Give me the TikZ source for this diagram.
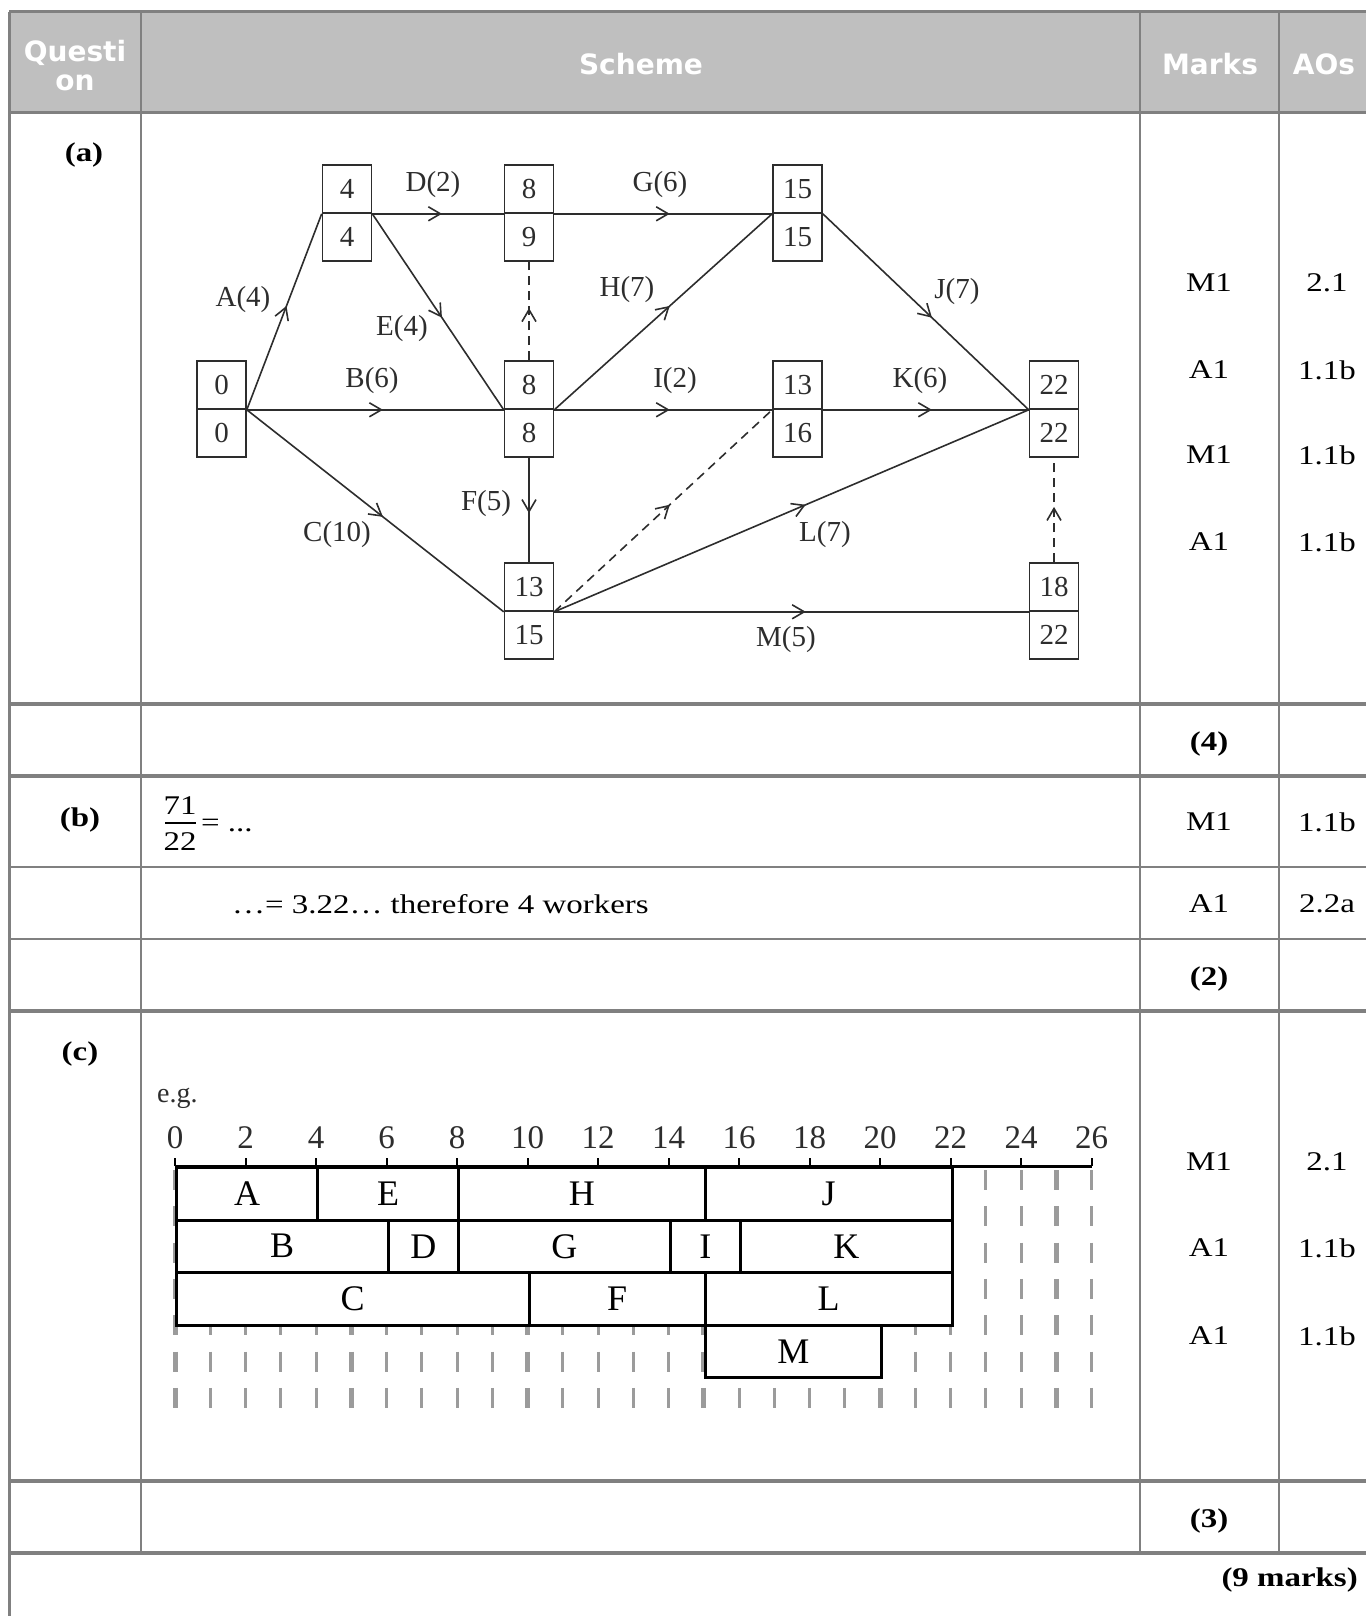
\documentclass[tikz,border=0pt]{standalone}
\usepackage{fontspec}
\setmainfont{Liberation Serif}
\newfontfamily\widefont{Liberation Serif}[FakeStretch=1.22]
\newfontfamily\hdrfont{DejaVu Sans}
\usetikzlibrary{arrows.meta,decorations.markings}
\definecolor{tline}{RGB}{128,128,128}
\definecolor{hdrfill}{RGB}{191,191,191}
\definecolor{ink}{RGB}{45,45,45}
\definecolor{dgray}{RGB}{155,155,155}
\tikzset{
  tbl/.style={draw=tline, line width=2.2pt},
  thk/.style={draw=tline, line width=3.5pt},
  hdr/.style={font=\hdrfont\bfseries\fontsize{28}{29}\selectfont, text=white, align=center, inner sep=0},
  mk/.style={font=\widefont\fontsize{27}{30}\selectfont, inner sep=0},
  mkb/.style={font=\widefont\bfseries\fontsize{27}{30}\selectfont, inner sep=0},
  cell/.style={draw=ink, line width=1.6pt, minimum width=49pt, minimum height=48pt, inner sep=0, font=\fontsize{29}{30}\selectfont, text=ink},
  lbl/.style={font=\fontsize{29}{30}\selectfont, text=ink, inner sep=0},
  act/.style={draw=ink, line width=1.6pt, postaction={decorate},
    decoration={markings, mark=at position 0.53 with {\arrow{Straight Barb[length=12pt,width=14pt]}}}},
  dum/.style={act, dash pattern=on 9pt off 6pt},
  bar/.style={draw=black, line width=3pt, fill=white, inner sep=0, font=\fontsize{36}{38}\selectfont},
  gnum/.style={font=\fontsize{33}{35}\selectfont, inner sep=0, text=ink},
  gd/.style={draw=dgray, line width=3pt, dash pattern=on 20pt off 16.3pt},
  gdk/.style={gd, line width=5pt}
}
\begin{document}
\begin{tikzpicture}[x=1pt,y=-1pt]
\path[use as bounding box] (0,0) rectangle (1366,1616);
% header
\fill[hdrfill] (9,12) rectangle (1366,113);
% table lines
\draw[tbl, line width=3pt] (9,12) -- (1366,12);
\draw[tbl, line width=3pt] (9,113) -- (1366,113);
\foreach \yy in {704,776,1011,1481,1553} {\draw[thk] (9,\yy) -- (1366,\yy);}
\foreach \yy in {867,939} {\draw[tbl, line width=2pt] (141,\yy) -- (1366,\yy); \draw[tbl, line width=2pt] (9,\yy) -- (141,\yy);}
\draw[tbl, line width=3pt] (9,12) -- (9,1616);
\draw[tbl] (141,12) -- (141,1553);
\draw[tbl] (1140,12) -- (1140,1553);
\draw[tbl, line width=2pt] (1279,12) -- (1279,1553);
% header text
\node[hdr] (hq) at (75,66) {Questi\\on};
\node[hdr] (hs) at (641,64) {Scheme};
\node[hdr] (hm) at (1210,64) {Marks};
\node[hdr] (ha) at (1324,64) {AOs};
% part labels
\node[mkb] (pa) at (84,155) {(a)};
\node[mkb] (pb) at (80,820) {(b)};
\node[mkb] (pc) at (80,1054) {(c)};
% marks
\foreach \nm/\yy/\mm/\ao in {m1/283/M1/2.1, m2/370/A1/1.1b, m3/455/M1/1.1b, m4/542/A1/1.1b,
  m5/822/M1/1.1b, m6/904/A1/2.2a, m7/1162/M1/2.1, m8/1248/A1/1.1b, m9/1336/A1/1.1b} {
  \node[mk] (\nm) at (1209,\yy) {\mm};
  \node[mk] (\nm ao) at (1327,\yy) {\ao};
}
\node[mkb] (t4) at (1209,744) {(4)};
\node[mkb] (t2) at (1209,979) {(2)};
\node[mkb] (t3) at (1209,1521) {(3)};
\node[mkb, anchor=east] (t9) at (1358,1580) {(9 marks)};
% part (b)
\node[mk] (fn) at (180,806) {71};
\node[mk] (fd) at (180,842) {22};
\draw[black, line width=1.3pt] (165,823) -- (196,823);
\node[mk, anchor=west] (feq) at (201,826) {= ...};
\node[mk, anchor=west] (bres) at (232,904) {…= 3.22… therefore 4 workers};
% network
\foreach \id/\cx/\my/\ta/\tb in {0/221.5/409/0/0, 1/347/213/4/4, 2/529/213/8/9, 3/529/409/8/8,
  4/797.5/213/15/15, 5/797.5/409/13/16, 6/529/611/13/15, 7/1054/409/22/22, 8/1054/611/18/22} {
  \node[cell] (n\id t) at ({\cx},{\my-24}) {\ta};
  \node[cell] (n\id b) at ({\cx},{\my+24}) {\tb};
}
\draw[act] (n0t.south east) -- (n1t.south west);
\draw[act] (n1t.south east) -- (n2t.south west);
\draw[act] (n1t.south east) -- (n3t.south west);
\draw[act] (n0t.south east) -- (n3t.south west);
\draw[act] (n0t.south east) -- (n6t.south west);
\draw[dum] (n3t.north) -- (n2b.south);
\draw[act] (n3b.south) -- (n6t.north);
\draw[act] (n2t.south east) -- (n4t.south west);
\draw[act] (n3t.south east) -- (n4t.south west);
\draw[act] (n3t.south east) -- (n5t.south west);
\draw[act] (n4t.south east) -- (n7t.south west);
\draw[act] (n5t.south east) -- (n7t.south west);
\draw[dum] (n6t.south east) -- (n5t.south west);
\draw[act] (n6t.south east) -- (n7t.south west);
\draw[act] (n6t.south east) -- (n8t.south west);
\draw[dum] (n8t.north) -- (n7b.south);
\foreach \nm/\xx/\yy/\tx in {la/243/300/A(4), ld/433/185/D(2), le/402/329/E(4), lb/372/381/B(6),
  lc/337/535/C(10), lf/486/504/F(5), lg/660/185/G(6), lh/627/290/H(7), li/675/381/I(2),
  lj/957/292/J(7), lk/920/381/K(6), ll/825/535/L(7), lm/786/640/M(5)} {
  \node[lbl] (\nm) at (\xx,\yy) {\tx};
}
% part (c) gantt
\node[gnum, anchor=west] (eg) at (157,1098) {\fontsize{28}{30}\selectfont e.g.};
\foreach \t in {0,...,26} {
  \pgfmathtruncatemacro\mm{mod(\t,5)}
  \ifnum\mm=0
    \draw[gdk] ({175+\t*35.25},1170) -- ({175+\t*35.25},1412);
  \else
    \draw[gd] ({175+\t*35.25},1170) -- ({175+\t*35.25},1412);
  \fi
}
\draw[black, line width=3pt] (175,1166) -- (1092,1166);
\foreach \t in {0,2,...,26} {
  \node[gnum] (tk\t) at ({175+\t*35.25},1138) {\t};
  \draw[black, line width=2pt] ({175+\t*35.25},1166) -- ({175+\t*35.25},1158);
}
\foreach \n/\a/\b/\r in {A/0/4/0, E/4/8/0, H/8/15/0, J/15/22/0, B/0/6/1, D/6/8/1, G/8/14/1,
  I/14/16/1, K/16/22/1, C/0/10/2, F/10/15/2, L/15/22/2, M/15/20/3} {
  \node[bar, minimum width={(\b-\a)*35.25}, minimum height=52.5pt, anchor=north west]
    (bar\n) at ({175+\a*35.25},{1166+\r*52.5}) {\n};
}
\end{tikzpicture}
\end{document}
